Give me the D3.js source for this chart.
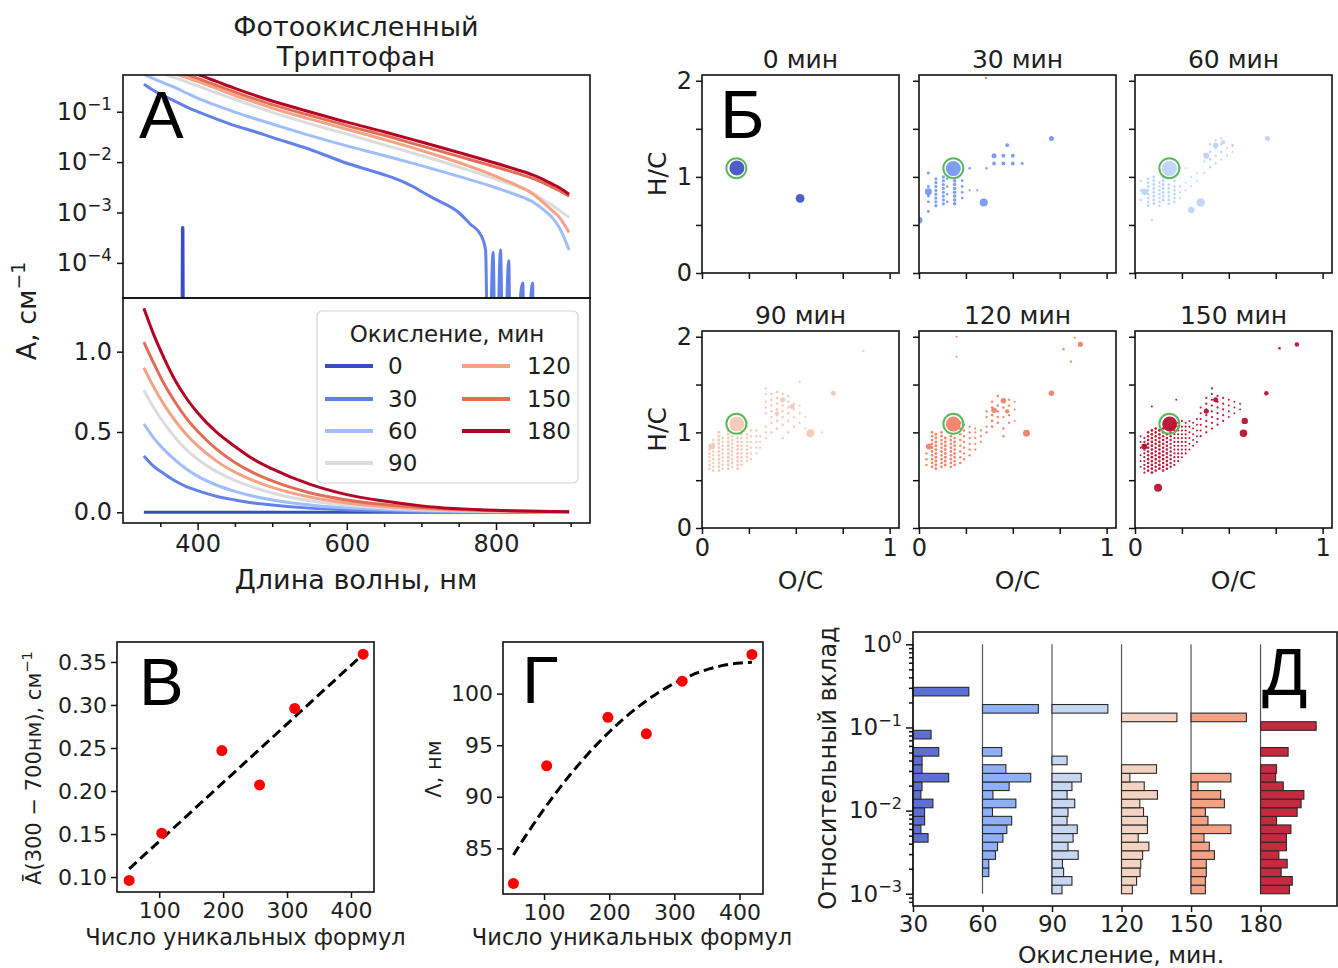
<!DOCTYPE html>
<html><head><meta charset="utf-8">
<script src="https://cdn.jsdelivr.net/npm/d3@7/dist/d3.min.js"></script>
<style>
body{margin:0;background:#fff;}
svg{display:block;font-family:"DejaVu Sans",sans-serif;}
</style></head><body>
<svg id="c" width="1338" height="968"></svg>
<script>
// ================= DATA =================
// Panel A (top, log scale): absorption spectra (wavelength, nm -> A, cm^-1)
const oxMinutes = [0, 30, 60, 90, 120, 150, 180];
const wl0 = [328, 379, 380, 381, 898];
const abs0 = [0, 0, 0.0005, 0, 0];
const wl30 = [328,340,355,370,385,400,425,450,475,500,550,600,625,650,665,680,690,700,720,750,765,780,786,790,796,800,806,810,817,820,836,838,849,851,898];
const abs30 = [0.35,0.27,0.205,0.16,0.125,0.10,0.072,0.053,0.041,0.031,0.018,0.0095,0.0073,0.0056,0.0047,0.0038,0.0032,0.0026,0.0018,0.0010,0.0006,0.00035,0.00018,0,0.00016,0,0.00018,0,0.00011,0,0.00004,0,0.00004,0,0];
const wlMain = [328,340,355,370,385,400,425,450,475,500,550,600,650,700,750,800,825,850,865,875,885,898];
const abs60  = [0.55,0.46,0.37,0.30,0.235,0.185,0.133,0.098,0.074,0.057,0.034,0.021,0.0135,0.0085,0.0052,0.0031,0.0023,0.0016,0.0011,0.0008,0.0005,0.00018];
const abs90  = [0.76,0.66,0.56,0.47,0.39,0.325,0.238,0.175,0.13,0.097,0.058,0.036,0.022,0.0135,0.008,0.0046,0.0034,0.0024,0.0017,0.0014,0.0011,0.0008];
const abs120 = [0.90,0.79,0.67,0.565,0.475,0.40,0.29,0.21,0.157,0.118,0.072,0.045,0.028,0.017,0.0098,0.0052,0.0036,0.0023,0.0015,0.0011,0.0008,0.0004];
const abs150 = [1.06,0.93,0.78,0.66,0.55,0.46,0.335,0.245,0.182,0.138,0.085,0.053,0.034,0.021,0.013,0.008,0.0062,0.0047,0.0038,0.0032,0.0027,0.0021];
const abs180 = [1.27,1.12,0.95,0.80,0.66,0.55,0.40,0.29,0.215,0.163,0.100,0.062,0.040,0.025,0.0155,0.0095,0.0073,0.0055,0.0044,0.0037,0.0031,0.0023];
// Panel A (bottom, linear scale)
const wlLin = [328,340,355,370,385,400,425,450,475,500,550,600,650,700,800,898];
const lin0   = [0,0,0,0,0,0,0,0,0,0,0,0,0,0,0,0];
const lin30  = [0.35,0.29,0.24,0.195,0.16,0.135,0.10,0.077,0.058,0.045,0.026,0.015,0.008,0.004,0.001,0];
const lin60  = [0.55,0.47,0.39,0.325,0.27,0.225,0.17,0.13,0.10,0.077,0.046,0.028,0.017,0.010,0.004,0.001];
const lin90  = [0.76,0.66,0.555,0.465,0.39,0.33,0.255,0.198,0.155,0.12,0.072,0.044,0.027,0.016,0.006,0.002];
const lin120 = [0.90,0.79,0.67,0.57,0.485,0.415,0.32,0.25,0.197,0.155,0.095,0.058,0.036,0.022,0.008,0.003];
const lin150 = [1.06,0.94,0.80,0.685,0.585,0.505,0.395,0.31,0.245,0.195,0.122,0.077,0.048,0.03,0.011,0.004];
const lin180 = [1.27,1.12,0.96,0.82,0.71,0.62,0.50,0.41,0.33,0.27,0.175,0.11,0.07,0.04,0.012,0.004];
const lineColors = ["#3b4cc0","#6282ea","#9ebeff","#dddcdc","#f6a385","#e36c55","#b40426"];

// Panel Б: van Krevelen (O/C, H/C, relative intensity)
const vkTitles = ["0 мин","30 мин","60 мин","90 мин","120 мин","150 мин"];
const vkColors = ["#3b4cc0","#7093f3","#bcd2f7","#f2c7b2","#ec7c60","#b40426"];
const tryptophan = [0.183, 1.09];
const pts0 = [[0.186,1.093,0.88],[0.523,0.776,0.3]];
const pts30 = [[0.0,0.55,0.19],[0.05,0.845,0.19],[0.345,0.734,0.25],[0.36,1.09,0.022],[0.40,1.14,0.06],[0.45,1.14,0.06],[0.50,1.14,0.06],[0.55,1.14,0.035],[0.40,1.22,0.1],[0.45,1.22,0.06],[0.50,1.22,0.06],[0.47,1.33,0.06],[0.706,1.40,0.1],[0.357,2.03,0.022],[0.27,1.09,0.026],[0.183,1.086,0.88]];
const cols30 = [[0.05,0.035,[0.64,0.74,0.80,0.90,1.04]],[0.09,0.04,[0.70,0.74,0.78,0.82,0.86,0.90,0.94,0.98]],[0.13,0.04,[0.72,0.76,0.80,0.84,0.88,0.92,0.96,1.00]],[0.15,0.026,[0.74,0.82,0.90,0.98]],[0.19,0.05,[0.72,0.76,0.80,0.84,0.88,0.92,0.96]],[0.23,0.03,[0.78,0.84,0.90,0.96]],[0.27,0.02,[0.86]],[0.31,0.02,[0.86]]];
const pts60 = [[0.05,0.845,0.16],[0.09,0.55,0.022],[0.30,0.655,0.16],[0.35,0.734,0.28],[0.38,1.22,0.14],[0.43,1.33,0.12],[0.47,1.36,0.06],[0.706,1.40,0.1],[0.52,1.33,0.03],[0.183,1.086,0.88]];
const cols60 = [[0.03,0.022,[0.76,0.86,0.96]],[0.07,0.03,[0.70,0.74,0.78,0.82,0.86,0.90,0.94,0.98]],[0.10,0.035,[0.72,0.76,0.80,0.84,0.88,0.92,0.96,1.00]],[0.13,0.026,[0.70,0.74,0.78,0.82,0.86,0.90,0.94]],[0.15,0.04,[0.76,0.80,0.84,0.88,0.92,0.96,1.00]],[0.18,0.03,[0.72,0.76,0.80,0.84,0.88,0.92]],[0.21,0.026,[0.74,0.78,0.82,0.86,0.90,0.96]],[0.24,0.02,[0.78,0.84,0.90,1.09]],[0.27,0.016,[0.86,0.94,1.09]],[0.30,0.016,[0.90,1.00]],[0.33,0.016,[0.96,1.04]],[0.37,0.02,[1.04,1.16,1.24]],[0.40,0.026,[1.10,1.18,1.26,1.34]],[0.43,0.022,[1.14,1.22,1.30,1.38]],[0.46,0.022,[1.18,1.26,1.34,1.40]],[0.49,0.02,[1.22,1.30]],[0.52,0.016,[1.26,1.32]]];
const pts90 = [[0.053,0.853,0.14],[0.578,0.99,0.25],[0.70,1.41,0.1],[0.86,1.85,0.022],[0.52,1.53,0.022],[0.43,1.34,0.1],[0.48,1.27,0.1],[0.40,1.20,0.06],[0.186,1.088,0.88]];
const cols90 = [[0.04,0.026,[0.62,0.66,0.70,0.74,0.78,0.82,0.86]],[0.06,0.026,[0.60,0.64,0.68,0.72,0.76,0.80,0.84,0.88,0.92]],[0.09,0.035,[0.60,0.64,0.68,0.72,0.76,0.80,0.84,0.88,0.92,0.96,1.00]],[0.11,0.026,[0.62,0.66,0.70,0.74,0.78,0.82,0.86,0.90,0.94]],[0.14,0.035,[0.62,0.66,0.70,0.74,0.78,0.82,0.86,0.90,0.94,0.98,1.02]],[0.16,0.03,[0.64,0.68,0.72,0.76,0.80,0.84,0.88,0.92,0.96]],[0.19,0.035,[0.62,0.66,0.70,0.74,0.78,0.82,0.86,0.90,0.94]],[0.21,0.026,[0.66,0.70,0.74,0.78,0.82,0.86,0.90,0.94,0.98,1.02]],[0.24,0.026,[0.70,0.74,0.78,0.82,0.86,0.90,0.94,0.98,1.06,1.10]],[0.26,0.022,[0.72,0.78,0.84,0.90,0.96,1.02]],[0.29,0.022,[0.78,0.84,0.90,0.96,1.02]],[0.31,0.02,[0.84,0.90,0.96]],[0.34,0.022,[0.94,1.00,1.06,1.20,1.26,1.32,1.40,1.46]],[0.37,0.026,[1.00,1.10,1.16,1.22,1.28,1.34,1.40]],[0.40,0.03,[1.04,1.12,1.18,1.24,1.30,1.36,1.42]],[0.43,0.026,[0.94,1.08,1.16,1.22,1.28,1.40]],[0.46,0.026,[1.00,1.12,1.20,1.26,1.32,1.38]],[0.49,0.022,[1.06,1.16,1.24,1.30]],[0.52,0.02,[1.10,1.20,1.28]],[0.55,0.016,[1.04,1.16]],[0.64,0.016,[1.00]]];
const pts120 = [[0.053,0.853,0.14],[0.573,0.99,0.19],[0.706,1.41,0.12],[0.2,2.0,0.016],[0.2,1.79,0.016],[0.77,1.87,0.022],[0.81,1.74,0.022],[0.83,1.99,0.016],[0.86,1.92,0.1],[0.40,1.23,0.12],[0.45,1.33,0.12],[0.47,1.22,0.075],[0.183,1.088,0.88]];
const cols120 = [[0.04,0.022,[0.66,0.72,0.78]],[0.07,0.03,[0.64,0.68,0.72,0.76,0.80,0.84,0.88,0.92,0.96,1.00]],[0.09,0.035,[0.62,0.66,0.70,0.74,0.78,0.82,0.86,0.90,0.94,0.98]],[0.12,0.03,[0.64,0.68,0.72,0.76,0.80,0.84,0.88,0.92,0.96,1.00]],[0.14,0.035,[0.66,0.70,0.74,0.78,0.82,0.86,0.90,0.94]],[0.17,0.03,[0.64,0.68,0.72,0.76,0.80,0.84,0.88,0.92,0.96]],[0.19,0.03,[0.66,0.70,0.74,0.78,0.82,0.86,0.90,0.94]],[0.22,0.026,[0.68,0.74,0.80,0.86,0.92,0.98,1.04,1.10]],[0.24,0.022,[0.72,0.78,0.84,0.90,0.96,1.02,1.08]],[0.27,0.022,[0.76,0.82,0.88,0.94,1.00,1.06]],[0.30,0.02,[0.82,0.88,0.94,1.00,1.04]],[0.33,0.02,[0.90,0.96,1.02]],[0.36,0.022,[1.00,1.06,1.16,1.22]],[0.39,0.026,[1.06,1.12,1.18,1.26,1.32]],[0.42,0.026,[1.10,1.16,1.22,1.28,1.38]],[0.45,0.022,[0.96,1.04,1.16,1.26]],[0.48,0.022,[1.10,1.18,1.28,1.34]],[0.51,0.016,[1.12,1.24,1.32]]];
const pts150 = [[0.05,0.853,0.14],[0.123,0.42,0.25],[0.578,0.99,0.22],[0.585,1.12,0.16],[0.70,1.41,0.08],[0.77,1.88,0.026],[0.863,1.92,0.08],[0.09,1.27,0.016],[0.22,1.34,0.016],[0.43,1.34,0.1],[0.38,1.22,0.1],[0.185,1.088,0.88]];
const cols150 = [[0.03,0.016,[0.64,0.70,0.76,0.84,0.90,0.96]],[0.05,0.02,[0.58,0.62,0.66,0.70,0.74,0.78,0.82,0.86,0.90,0.94]],[0.07,0.026,[0.60,0.64,0.68,0.72,0.76,0.80,0.84,0.88,0.92,0.96,1.00]],[0.09,0.03,[0.58,0.62,0.66,0.70,0.74,0.78,0.82,0.86,0.90,0.94,0.98,1.02]],[0.11,0.026,[0.60,0.64,0.68,0.72,0.76,0.80,0.84,0.88,0.92,0.96,1.00,1.04]],[0.13,0.03,[0.62,0.66,0.70,0.74,0.78,0.82,0.86,0.90,0.94,0.98,1.02]],[0.15,0.026,[0.60,0.64,0.68,0.72,0.76,0.80,0.84,0.88,0.92,0.96,1.00,1.04]],[0.17,0.026,[0.62,0.66,0.70,0.74,0.78,0.82,0.86,0.90,0.94,0.98]],[0.19,0.022,[0.64,0.68,0.72,0.76,0.80,0.84,0.88,0.92,0.96,1.00,1.04]],[0.21,0.02,[0.66,0.70,0.74,0.78,0.82,0.86,0.90,0.94,0.98,1.02,1.06,1.10]],[0.23,0.02,[0.70,0.74,0.78,0.82,0.86,0.90,0.94,0.98,1.02,1.06,1.10]],[0.25,0.018,[0.74,0.78,0.82,0.86,0.90,0.94,0.98,1.02,1.06,1.12]],[0.27,0.018,[0.78,0.82,0.86,0.90,0.94,0.98,1.02,1.06,1.10]],[0.29,0.016,[0.82,0.88,0.94,1.00,1.06,1.12]],[0.31,0.016,[0.86,0.92,0.98,1.04,1.10]],[0.33,0.016,[0.90,0.96,1.02,1.08,1.14]],[0.35,0.018,[0.96,1.02,1.08,1.14,1.20,1.26]],[0.38,0.02,[1.00,1.06,1.12,1.18,1.24,1.30,1.36]],[0.41,0.02,[1.04,1.10,1.16,1.22,1.28,1.34,1.40,1.46]],[0.44,0.02,[1.08,1.14,1.20,1.26,1.32,1.38]],[0.47,0.018,[1.12,1.18,1.24,1.30,1.36]],[0.50,0.016,[1.16,1.22,1.28,1.34]],[0.53,0.014,[1.20,1.26,1.32]],[0.56,0.014,[1.24,1.30]]];

// Panels В, Г
const formulaCounts = [53, 104, 198, 257, 312, 419];
const meanAbs = [0.096, 0.151, 0.247, 0.207, 0.296, 0.359];
const lambdaNm = [81.6, 93.0, 97.7, 96.1, 101.2, 103.8];

// Panel Д: histograms of relative contribution (29 log bins from 1e-3 to 1), bar length in minutes
const histMinutes = [30, 60, 90, 120, 150, 180];
const hist30  = [0,0,0,0,0,0,6.5,3.4,5.0,5.0,8.6,3.4,3.9,15.4,3.9,3.9,11.1,0,7.8,0,0,0,0,24.1,0,0,0,0,0];
const hist60  = [0,0,2.7,2.7,5.6,6.5,8.8,10.5,12.6,4.3,14.4,4.5,11.5,20.8,10.1,0,8.3,0,0,0,0,24.1,0,0,0,0,0,0,0];
const hist90  = [4.3,8.6,5.0,4.5,11.3,6.9,9.1,10.9,6.5,6.9,9.8,6.5,8.6,12.6,0,6.5,0,0,0,0,0,24.1,0,0,0,0,0,0,0];
const hist120 = [4.7,6.5,8.0,8.3,9.1,11.8,7.2,11.2,11.2,9.5,7.9,15.5,9.8,3.6,15.1,0,0,0,0,0,23.9,0,0,0,0,0,0,0,0];
const hist150 = [6.2,6.2,6.6,6.6,10.1,7.9,5.6,17.2,7.3,6.2,14.4,12.8,3.0,17.2,0,0,0,0,0,0,23.9,0,0,0,0,0,0,0,0];
const hist180 = [12.5,13.7,8.9,11.5,7.9,11.2,11.2,13.1,6.9,15.8,17.5,18.7,9.8,6.5,6.9,0,11.9,0,0,24.0,0,0,0,0,0,0,0,0,0];
const histColors = ["#5d6fd3","#8eb0fb","#c8d7f1","#f5d3c2","#f4a284","#c62a3f"];

// ================= DRAWING =================
const svg = d3.select("#c");
const FONT = "DejaVu Sans, sans-serif";
const LETTER = "Liberation Sans, Arial, sans-serif";
const TXT = "#1e1e1e";
let clipId = 0;

function styleAxis(g, fs) {
  g.select(".domain").remove();
  g.selectAll(".tick line").attr("stroke", "#111").attr("stroke-width", 1.5);
  g.selectAll(".tick text").attr("fill", TXT).attr("font-size", fs).attr("font-family", FONT);
}
function frame(x0, y0, x1, y1) {
  svg.append("rect").attr("x", x0).attr("y", y0).attr("width", x1 - x0).attr("height", y1 - y0)
    .attr("fill", "none").attr("stroke", "#111").attr("stroke-width", 1.6);
}
function clip(x0, y0, x1, y1) {
  const id = "clip" + (clipId++);
  svg.append("clipPath").attr("id", id).append("rect").attr("x", x0).attr("y", y0).attr("width", x1 - x0).attr("height", y1 - y0);
  return "url(#" + id + ")";
}
function supText(sel, base, sup, fs) {
  sel.text(null);
  sel.append("tspan").text(base);
  sel.append("tspan").attr("dy", -0.42 * fs).attr("font-size", fs * 0.7).text(sup);
}
function text(x, y, s, fs, opts = {}) {
  const t = svg.append("text").attr("x", x).attr("y", y).attr("font-size", fs)
    .attr("font-family", opts.font || FONT).attr("fill", opts.fill || TXT)
    .attr("text-anchor", opts.anchor || "middle");
  if (opts.rotate) t.attr("transform", `rotate(-90 ${x} ${y})`);
  t.text(s);
  return t;
}
function logSup(d) { return "−" + Math.round(-Math.log10(d)); }

// ---------- Panel A ----------
const A = { x0: 123, x1: 590, yt: 75, ym: 298, yb: 523 };
const xA = d3.scaleLinear().domain([300, 926]).range([A.x0, A.x1]);
const yAlog = d3.scaleLog().domain([2.01e-5, 0.535]).range([A.ym, A.yt]);
const yAlin = d3.scaleLinear().domain([-0.0666, 1.334]).range([A.yb, A.ym]);
const spectraLog = [
  { wl: wl0, a: abs0 }, { wl: wl30, a: abs30 }, { wl: wlMain, a: abs60 }, { wl: wlMain, a: abs90 },
  { wl: wlMain, a: abs120 }, { wl: wlMain, a: abs150 }, { wl: wlMain, a: abs180 }
];
const spectraLin = [lin0, lin30, lin60, lin90, lin120, lin150, lin180];
const clipTop = clip(A.x0, A.yt, A.x1, A.ym);
const clipBot = clip(A.x0, A.ym, A.x1, A.yb);
const gTop = svg.append("g").attr("clip-path", clipTop);
const gBot = svg.append("g").attr("clip-path", clipBot);
spectraLog.forEach((s, i) => {
  const pts = s.wl.map((w, j) => [w, s.a[j]]);
  const curve = i === 0 ? d3.curveLinear : d3.curveMonotoneX;
  const lLog = d3.line().x(d => xA(d[0])).y(d => yAlog(Math.max(d[1], 1e-7))).curve(curve);
  gTop.append("path").attr("d", lLog(pts)).attr("fill", "none").attr("stroke", lineColors[i])
    .attr("stroke-width", i === 0 ? 3.5 : 3).attr("stroke-linejoin", "round");
  const ptsLin = wlLin.map((w, j) => [w, spectraLin[i][j]]);
  const lLin = d3.line().x(d => xA(d[0])).y(d => yAlin(d[1])).curve(d3.curveMonotoneX);
  gBot.append("path").attr("d", lLin(ptsLin)).attr("fill", "none").attr("stroke", lineColors[i])
    .attr("stroke-width", 3).attr("stroke-linejoin", "round");
});
frame(A.x0, A.yt, A.x1, A.ym);
frame(A.x0, A.ym, A.x1, A.yb);
let g = svg.append("g").attr("transform", `translate(${A.x0},0)`)
  .call(d3.axisLeft(yAlog).tickValues([1e-1, 1e-2, 1e-3, 1e-4]).tickSize(6).tickPadding(5).tickFormat(() => ""));
styleAxis(g, 24);
g.selectAll(".tick text").each(function (d) { supText(d3.select(this), "10", logSup(d), 24); });
g = svg.append("g").attr("transform", `translate(${A.x0},0)`)
  .call(d3.axisLeft(yAlin).tickValues([0, 0.5, 1.0]).tickSize(6).tickPadding(5).tickFormat(d3.format(".1f")));
styleAxis(g, 24);
g = svg.append("g").attr("transform", `translate(0,${A.yb})`)
  .call(d3.axisBottom(xA).tickValues([400, 600, 800]).tickSize(7).tickPadding(5).tickFormat(d3.format("d")));
styleAxis(g, 24);
g = svg.append("g").attr("transform", `translate(0,${A.yb})`)
  .call(d3.axisBottom(xA).tickValues([350, 450, 500, 550, 650, 700, 750, 850, 900]).tickSize(4).tickFormat(() => ""));
styleAxis(g, 24);
text(356, 36, "Фотоокисленный", 27);
text(356, 66, "Триптофан", 27);
text(356, 589, "Длина волны, нм", 27);
supText(text(36, 311, "", 27, { rotate: true }), "А, см", "−1", 27);
text(139, 138, "А", 67, { anchor: "start", font: LETTER, fill: "#000" });
// legend
svg.append("rect").attr("x", 317).attr("y", 311).attr("width", 261).attr("height", 172).attr("rx", 5)
  .attr("fill", "#fff").attr("fill-opacity", 0.85).attr("stroke", "#d4d4d4").attr("stroke-width", 1.2);
text(447, 342, "Окисление, мин", 23);
const legRows = [366, 399, 431, 463];
oxMinutes.forEach((m, i) => {
  const col = i < 4 ? 0 : 1, row = i < 4 ? i : i - 4;
  const lx = col === 0 ? 325 : 462, tx = col === 0 ? 388 : 527, y = legRows[row];
  svg.append("line").attr("x1", lx).attr("x2", lx + 48).attr("y1", y).attr("y2", y).attr("stroke", lineColors[i]).attr("stroke-width", 4);
  text(tx, y + 8, String(m), 23, { anchor: "start" });
});

// ---------- Panel Б ----------
const vkLefts = [702, 919, 1135];
const vkRows = [[75, 273], [331, 528]];
const vkPts = [pts0, pts30, pts60, pts90, pts120, pts150];
const vkCols = [[], cols30, cols60, cols90, cols120, cols150];
const rScale = d3.scaleSqrt().domain([0, 1]).range([0, 8]);
vkTitles.forEach((title, p) => {
  const col = p % 3, row = Math.floor(p / 3);
  const L = vkLefts[col], R = L + 197, T = vkRows[row][0], B = vkRows[row][1];
  const xs = d3.scaleLinear().domain([0, 1.05]).range([L, R]);
  const ys = d3.scaleLinear().domain([0, 2.06]).range([B, T]);
  const gp = svg.append("g").attr("clip-path", clip(L, T, R, B));
  const all = [];
  vkCols[p].forEach(c => c[2].forEach(h => all.push([c[0], h, c[1]])));
  vkPts[p].forEach(d => all.push(d));
  all.sort((a, b) => a[2] - b[2]);
  gp.selectAll("circle.pt").data(all).join("circle").attr("class", "pt")
    .attr("cx", d => xs(d[0])).attr("cy", d => ys(d[1])).attr("r", d => rScale(d[2]))
    .attr("fill", vkColors[p]).attr("fill-opacity", 0.9);
  gp.append("circle").attr("cx", xs(tryptophan[0])).attr("cy", ys(tryptophan[1])).attr("r", 10)
    .attr("fill", "none").attr("stroke", "#5cb85c").attr("stroke-width", 2);
  frame(L, T, R, B);
  let ga = svg.append("g").attr("transform", `translate(0,${B})`)
    .call(d3.axisBottom(xs).tickValues([0, 0.25, 0.5, 0.75, 1]).tickSize(6).tickPadding(5)
      .tickFormat(d => (row === 1 && (d === 0 || d === 1)) ? String(d) : ""));
  styleAxis(ga, 24);
  ga = svg.append("g").attr("transform", `translate(${L},0)`)
    .call(d3.axisLeft(ys).tickValues([0, 0.5, 1, 1.5, 2]).tickSize(6).tickPadding(4)
      .tickFormat(d => (col === 0 && Number.isInteger(d)) ? String(d) : ""));
  styleAxis(ga, 24);
  text((L + R) / 2, T - 7, title, 25);
  if (row === 1) text((L + R) / 2, 589, "O/C", 25);
  if (col === 0) text(666, (T + B) / 2, "H/C", 25, { rotate: true });
});
text(720, 138, "Б", 68, { anchor: "start", font: LETTER, fill: "#000" });

// ---------- Panels В and Г ----------
function scatterPanel(box, xDom, yDom, yVals, yTicks, fmt, fitDegree) {
  const xs = d3.scaleLinear().domain(xDom).range([box.x0, box.x1]);
  const ys = d3.scaleLinear().domain(yDom).range([box.y1, box.y0]);
  const n = formulaCounts.length;
  let fitPts = [];
  if (fitDegree === 1) {
    const mx = d3.mean(formulaCounts), my = d3.mean(yVals);
    let sxy = 0, sxx = 0;
    for (let i = 0; i < n; i++) { sxy += (formulaCounts[i] - mx) * (yVals[i] - my); sxx += (formulaCounts[i] - mx) ** 2; }
    const b = sxy / sxx, a = my - b * mx;
    const x0 = d3.min(formulaCounts), x1 = d3.max(formulaCounts);
    fitPts = [[x0, a + b * x0], [x1, a + b * x1]];
  } else {
    const S = [0, 1, 2, 3, 4].map(k => d3.sum(formulaCounts, x => x ** k));
    const T = [0, 1, 2].map(k => d3.sum(formulaCounts.map((x, i) => x ** k * yVals[i])));
    const M = [[S[0], S[1], S[2], T[0]], [S[1], S[2], S[3], T[1]], [S[2], S[3], S[4], T[2]]];
    for (let i = 0; i < 3; i++) {
      for (let j = i + 1; j < 3; j++) { const f = M[j][i] / M[i][i]; for (let k = i; k < 4; k++) M[j][k] -= f * M[i][k]; }
    }
    const c = [0, 0, 0];
    for (let i = 2; i >= 0; i--) { let s = M[i][3]; for (let k = i + 1; k < 3; k++) s -= M[i][k] * c[k]; c[i] = s / M[i][i]; }
    const xsFit = [d3.min(formulaCounts)].concat(d3.ticks(d3.min(formulaCounts), d3.max(formulaCounts), 60), [d3.max(formulaCounts)]);
    fitPts = xsFit.map(x => [x, c[0] + c[1] * x + c[2] * x * x]);
  }
  svg.append("path").attr("d", d3.line().x(d => xs(d[0])).y(d => ys(d[1])).curve(d3.curveMonotoneX)(fitPts))
    .attr("fill", "none").attr("stroke", "#000").attr("stroke-width", 3).attr("stroke-dasharray", "10,5");
  svg.selectAll(null).data(formulaCounts.map((x, i) => [x, yVals[i]])).join("circle")
    .attr("cx", d => xs(d[0])).attr("cy", d => ys(d[1])).attr("r", 5.5).attr("fill", "#ff0000");
  frame(box.x0, box.y0, box.x1, box.y1);
  let ga = svg.append("g").attr("transform", `translate(0,${box.y1})`)
    .call(d3.axisBottom(xs).tickValues([100, 200, 300, 400]).tickSize(6).tickPadding(4).tickFormat(d3.format("d")));
  styleAxis(ga, 22);
  ga = svg.append("g").attr("transform", `translate(${box.x0},0)`)
    .call(d3.axisLeft(ys).tickValues(yTicks).tickSize(6).tickPadding(4).tickFormat(fmt));
  styleAxis(ga, 22);
  text((box.x0 + box.x1) / 2 + (box.labelShift || 0), 945, "Число уникальных формул", 22.5);
}
const boxB = { x0: 117, x1: 374, y0: 642, y1: 892, labelShift: 0 };
scatterPanel(boxB, [34, 436], [0.0826, 0.3732], meanAbs, [0.10, 0.15, 0.20, 0.25, 0.30, 0.35], d3.format(".2f"), 1);
supText(text(41, 768, "", 21, { rotate: true }), "Ā(300 − 700нм), см", "−1", 21);
text(139, 705, "В", 67, { anchor: "start", font: LETTER, fill: "#000" });

const boxG = { x0: 503, x1: 763, y0: 642, y1: 894, labelShift: -1 };
scatterPanel(boxG, [37, 436], [80.58, 105.0], lambdaNm, [85, 90, 95, 100], d3.format("d"), 2);
text(441, 769, "Λ, нм", 21, { rotate: true });
text(522, 703, "Г", 67, { anchor: "start", font: LETTER, fill: "#000" });

// ---------- Panel Д ----------
const D = { x0: 913, x1: 1337, y0: 632, y1: 906 };
const xD = d3.scaleLinear().domain([30, 213]).range([D.x0, D.x1]);
const yD = d3.scaleLog().domain([Math.pow(10, -3.147), Math.pow(10, 0.148)]).range([D.y1, D.y0]);
const binExp = d3.range(30).map(k => -3 + 3 * k / 29);
const hists = [hist30, hist60, hist90, hist120, hist150, hist180];
hists.forEach((h, gi) => {
  const base = histMinutes[gi];
  svg.append("line").attr("x1", xD(base)).attr("x2", xD(base)).attr("y1", yD(1e-3)).attr("y2", yD(1))
    .attr("stroke", "#555").attr("stroke-width", 1.2);
  const bars = h.map((len, k) => ({ len, k })).filter(d => d.len > 0);
  svg.selectAll(null).data(bars).join("rect")
    .attr("x", xD(base)).attr("width", d => xD(base + d.len) - xD(base))
    .attr("y", d => yD(Math.pow(10, binExp[d.k + 1])))
    .attr("height", d => yD(Math.pow(10, binExp[d.k])) - yD(Math.pow(10, binExp[d.k + 1])))
    .attr("fill", histColors[gi]).attr("stroke", "#2a2a2a").attr("stroke-width", 1.1);
});
frame(D.x0, D.y0, D.x1, D.y1);
g = svg.append("g").attr("transform", `translate(0,${D.y1})`)
  .call(d3.axisBottom(xD).tickValues(histMinutes).tickSize(6).tickPadding(4).tickFormat(d3.format("d")));
styleAxis(g, 23);
g = svg.append("g").attr("transform", `translate(${D.x0},0)`)
  .call(d3.axisLeft(yD).tickValues([1e-3, 1e-2, 1e-1, 1]).tickSize(7).tickPadding(4).tickFormat(() => ""));
styleAxis(g, 23);
g.selectAll(".tick text").each(function (d) { supText(d3.select(this), "10", d === 1 ? "0" : logSup(d), 23); });
const minorD = [];
[-4, -3, -2, -1, 0].forEach(e => d3.range(2, 10).forEach(m => { const v = m * Math.pow(10, e); if (v > yD.domain()[0] && v < yD.domain()[1]) minorD.push(v); }));
g = svg.append("g").attr("transform", `translate(${D.x0},0)`)
  .call(d3.axisLeft(yD).tickValues(minorD).tickSize(4).tickFormat(() => ""));
styleAxis(g, 23);
text(1121, 963, "Окисление, мин.", 23.5);
text(836, 768, "Относительный вклад", 24, { rotate: true });
text(1262, 695, "Д", 67, { anchor: "start", font: LETTER, fill: "#000" });
</script>
</body></html>
